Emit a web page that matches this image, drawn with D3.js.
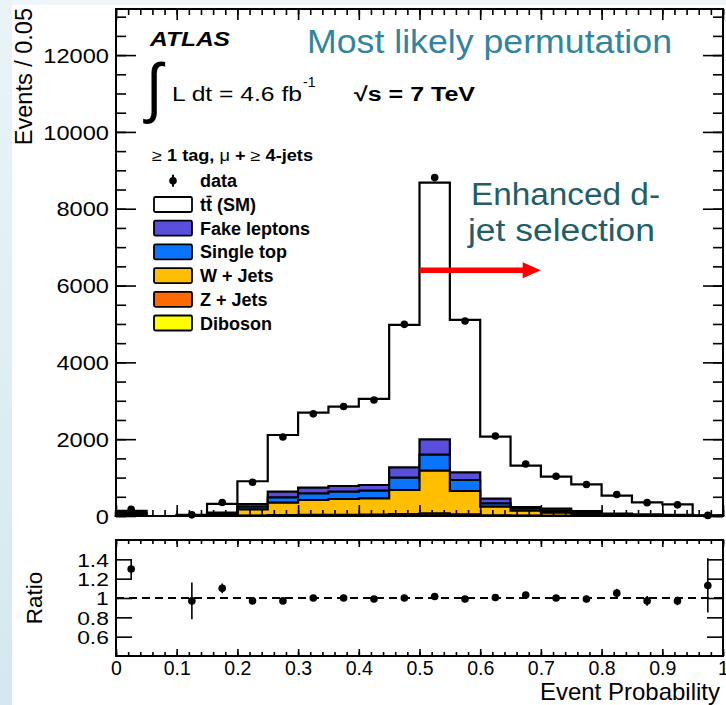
<!DOCTYPE html>
<html>
<head>
<meta charset="utf-8">
<script src="https://cdn.jsdelivr.net/npm/d3@7/dist/d3.min.js"></script>
<style>
  html, body { margin: 0; padding: 0; background: #eef5f8; }
  svg { display: block; }
  text { font-family: "Liberation Sans", Arial, Helvetica, sans-serif; }
</style>
</head>
<body>
<svg id="chart" width="726" height="705"></svg>
<script>
// ---- Histogram binning: event probability, 0.05 per bin ----
const binLow = [0.00, 0.05, 0.10, 0.15, 0.20, 0.25, 0.30, 0.35, 0.40, 0.45,
                0.50, 0.55, 0.60, 0.65, 0.70, 0.75, 0.80, 0.85, 0.90, 0.95];
const binWidth = 0.05;

// ---- Background and signal expectations (events per bin) ----
const diboson   = [1, 0, 0, 1, 3, 5, 6, 6, 7, 10, 15, 8, 4, 2, 1, 1, 0, 0, 0, 0];
const zJets     = [3, 0, 0, 3, 10, 20, 25, 26, 28, 40, 55, 35, 15, 8, 5, 3, 2, 1, 1, 0];
const wJets     = [46, 0, 6, 36, 161, 321, 386, 411, 425, 627, 1110, 608, 224, 128, 80, 36, 18, 11, 7, 2];
const singleTop = [30, 0, 2, 15, 69, 141, 174, 190, 200, 321, 417, 286, 87, 60, 50, 45, 20, 14, 10, 2];
const fakeLep   = [45, 0, 3, 35, 69, 146, 146, 148, 147, 269, 400, 200, 120, 36, 54, 45, 20, 14, 12, 1];
const ttbar     = [10, 0, 20, 228, 593, 1476, 1953, 2066, 2240, 3707, 6683, 3967, 1616, 1076, 834, 695, 471, 316, 274, 9];

// ---- Observed data (events per bin) ----
const dataCounts = [175, 0, 30, 350, 880, 2057, 2660, 2850, 3020, 4990, 8810, 5078, 2083, 1354, 1033, 822, 560, 348, 290, 16];

// ---- Data / expectation ratio and its uncertainty ----
const ratioVal = [1.30, null, 0.97, 1.10, 0.97, 0.97, 1.00, 1.00, 0.99, 1.00,
                  1.015, 0.99, 1.005, 1.03, 1.00, 0.99, 1.05, 0.97, 0.97, 1.13];
const ratioErr = [0.10, null, 0.19, 0.05, 0.03, 0.02, 0.02, 0.02, 0.02, 0.015,
                  0.01, 0.015, 0.02, 0.03, 0.03, 0.035, 0.045, 0.05, 0.045, 0.28];

// ---- Axis ticks ----
const yMajorTicks = [0, 2000, 4000, 6000, 8000, 10000, 12000];
const ratioTicks  = [0.6, 0.8, 1.0, 1.2, 1.4];
const xMajorTicks = [0, 0.1, 0.2, 0.3, 0.4, 0.5, 0.6, 0.7, 0.8, 0.9, 1.0];
const xTickLabels = ["0", "0.1", "0.2", "0.3", "0.4", "0.5", "0.6", "0.7", "0.8", "0.9", "1"];

// ---- Legend entries (stack drawn bottom to top) ----
const processes = [
  { name: "Diboson",      values: diboson,   color: "#ffff00" },
  { name: "Z + Jets",     values: zJets,     color: "#ff6a00" },
  { name: "W + Jets",     values: wJets,     color: "#ffbe00" },
  { name: "Single top",   values: singleTop, color: "#0a74ff" },
  { name: "Fake leptons", values: fakeLep,   color: "#5a4fdc" },
  { name: "tt (SM)",      values: ttbar,     color: "#ffffff" }
];

const svg = d3.select("#chart");
const FONT = '"Liberation Sans", Arial, Helvetica, sans-serif';
const CAL  = 'Lato, "Open Sans", sans-serif';

// page background: slide edge tint and white chart canvas
const grad = svg.append("defs").append("linearGradient")
  .attr("id", "edge").attr("x1", 0).attr("y1", 0).attr("x2", 0).attr("y2", 1);
grad.append("stop").attr("offset", "0%").attr("stop-color", "#eaf4f7");
grad.append("stop").attr("offset", "100%").attr("stop-color", "#d3e9ef");
svg.append("rect").attr("x", 0).attr("y", 0).attr("width", 726).attr("height", 705).attr("fill", "#eff6f9");
svg.append("rect").attr("x", 0).attr("y", 0).attr("width", 12).attr("height", 705).attr("fill", "url(#edge)");
svg.append("rect").attr("x", 12).attr("y", 5).attr("width", 714).attr("height", 700).attr("fill", "#ffffff");

// ---- Scales ----
const X0 = 116, X1 = 723;
const x  = d3.scaleLinear().domain([0, 1]).range([X0, X1]);
const y  = d3.scaleLinear().domain([0, 13200]).range([516, 9]);
const yr = d3.scaleLinear().domain([0.4, 1.6]).range([656, 540]);

// ---- Stacked histograms ----
const cumulative = [];
let running = binLow.map(() => 0);
processes.forEach(p => {
  running = running.map((v, i) => v + p.values[i]);
  cumulative.push({ ...p, top: running.slice() });
});

function stepPoints(top) {
  const pts = [[0, 0]];
  binLow.forEach((lo, i) => {
    pts.push([lo, top[i]]);
    pts.push([lo + binWidth, top[i]]);
  });
  pts.push([1, 0]);
  return pts;
}
const stepLine = d3.line().x(d => x(d[0])).y(d => y(d[1]));

const stackG = svg.append("g");
// draw the tallest layer first so lower components paint over it
cumulative.slice().reverse().forEach(layer => {
  stackG.append("path")
    .attr("d", stepLine(stepPoints(layer.top)) + "Z")
    .attr("fill", layer.color)
    .attr("stroke", "#000")
    .attr("stroke-width", 2.2)
    .attr("stroke-linejoin", "miter");
});

// ---- Main panel axes (inward ticks on all four sides) ----
function styleAxis(g) {
  g.select(".domain").remove();
  g.selectAll(".tick line").attr("stroke", "#000").attr("stroke-width", 1.6);
}
const yMinor = d3.range(0, 13200, 500);
const xMinor = d3.range(0, 1.0001, 0.02);

// left: labels outside, ticks inside
const leftAx = svg.append("g").attr("transform", `translate(${X0},0)`)
  .call(d3.axisRight(y).tickValues(yMajorTicks).tickSize(20).tickFormat(d3.format("d")));
styleAxis(leftAx);
leftAx.selectAll(".tick text")
  .attr("x", -6).attr("dy", "0.36em").attr("text-anchor", "end")
  .attr("font-size", 20).attr("font-family", FONT).attr("fill", "#000")
  .attr("transform", "scale(1.18,1)");
svg.append("g").attr("transform", `translate(${X0},0)`)
  .call(d3.axisRight(y).tickValues(yMinor).tickSize(10).tickFormat(""))
  .call(styleAxis);
// right
svg.append("g").attr("transform", `translate(${X1},0)`)
  .call(d3.axisLeft(y).tickValues(yMajorTicks).tickSize(20).tickFormat(""))
  .call(styleAxis);
svg.append("g").attr("transform", `translate(${X1},0)`)
  .call(d3.axisLeft(y).tickValues(yMinor).tickSize(10).tickFormat(""))
  .call(styleAxis);
// top and bottom
[[9, d3.axisBottom], [516, d3.axisTop]].forEach(([yy, ax]) => {
  svg.append("g").attr("transform", `translate(0,${yy})`)
    .call(ax(x).tickValues(xMajorTicks).tickSize(11).tickFormat(""))
    .call(styleAxis);
  svg.append("g").attr("transform", `translate(0,${yy})`)
    .call(ax(x).tickValues(xMinor).tickSize(6).tickFormat(""))
    .call(styleAxis);
});

// main frame
svg.append("rect").attr("x", X0).attr("y", 9).attr("width", X1 - X0).attr("height", 516 - 9)
  .attr("fill", "none").attr("stroke", "#000").attr("stroke-width", 2);

// ---- Data points with statistical error bars ----
const centers = binLow.map(lo => lo + binWidth / 2);
const pts = dataCounts.map((n, i) => ({ c: centers[i], n, show: ratioVal[i] !== null }))
  .filter(d => d.show);
const dataG = svg.append("g");
dataG.selectAll("line").data(pts).join("line")
  .attr("x1", d => x(d.c)).attr("x2", d => x(d.c))
  .attr("y1", d => y(d.n + Math.sqrt(d.n))).attr("y2", d => y(Math.max(0, d.n - Math.sqrt(d.n))))
  .attr("stroke", "#000").attr("stroke-width", 2);
dataG.selectAll("circle").data(pts).join("circle")
  .attr("cx", d => x(d.c)).attr("cy", d => y(d.n)).attr("r", 3.8).attr("fill", "#000");

// ---- Ratio panel ----
const RT = 540, RB = 656;
svg.append("g").attr("transform", `translate(${X0},0)`)
  .call(d3.axisRight(yr).tickValues(ratioTicks).tickSize(16).tickFormat(d => d === 1 ? "1" : d3.format(".1f")(d)))
  .call(styleAxis)
  .selectAll(".tick text")
  .attr("x", -6).attr("dy", "0.36em").attr("text-anchor", "end")
  .attr("font-size", 19).attr("font-family", FONT).attr("fill", "#000")
  .attr("transform", "scale(1.2,1)");
svg.append("g").attr("transform", `translate(${X1},0)`)
  .call(d3.axisLeft(yr).tickValues(ratioTicks).tickSize(16).tickFormat(""))
  .call(styleAxis);
svg.append("g").attr("transform", `translate(0,${RT})`)
  .call(d3.axisBottom(x).tickValues(xMajorTicks).tickSize(7).tickFormat(""))
  .call(styleAxis);
svg.append("g").attr("transform", `translate(0,${RT})`)
  .call(d3.axisBottom(x).tickValues(xMinor).tickSize(4).tickFormat(""))
  .call(styleAxis);
const botAx = svg.append("g").attr("transform", `translate(0,${RB})`)
  .call(d3.axisTop(x).tickValues(xMajorTicks).tickSize(7).tickFormat((d, i) => xTickLabels[i]));
styleAxis(botAx);
botAx.selectAll(".tick text")
  .attr("y", 19).attr("dy", 0).attr("text-anchor", "middle")
  .attr("font-size", 19.5).attr("font-family", FONT).attr("fill", "#000");
svg.append("g").attr("transform", `translate(0,${RB})`)
  .call(d3.axisTop(x).tickValues(xMinor).tickSize(4).tickFormat(""))
  .call(styleAxis);

svg.append("line").attr("x1", X0).attr("x2", X1).attr("y1", yr(1)).attr("y2", yr(1))
  .attr("stroke", "#000").attr("stroke-width", 2).attr("stroke-dasharray", "8,5");

svg.append("rect").attr("x", X0).attr("y", RT).attr("width", X1 - X0).attr("height", RB - RT)
  .attr("fill", "none").attr("stroke", "#000").attr("stroke-width", 2);

const rpts = ratioVal.map((r, i) => ({ c: centers[i], r, e: ratioErr[i] })).filter(d => d.r !== null);
const ratioG = svg.append("g");
ratioG.selectAll("line").data(rpts).join("line")
  .attr("x1", d => x(d.c)).attr("x2", d => x(d.c))
  .attr("y1", d => yr(d.r + d.e)).attr("y2", d => yr(d.r - d.e))
  .attr("stroke", "#000").attr("stroke-width", 1.6);
ratioG.selectAll("circle").data(rpts).join("circle")
  .attr("cx", d => x(d.c)).attr("cy", d => yr(d.r)).attr("r", 3.8).attr("fill", "#000");

// ---- Axis titles ----
svg.append("text").attr("transform", "translate(32,8) rotate(-90)")
  .attr("text-anchor", "end").attr("font-size", 23.5).attr("font-family", FONT).attr("fill", "#000")
  .text("Events / 0.05");
svg.append("text").attr("transform", `translate(42,${yr(1)}) rotate(-90)`)
  .attr("text-anchor", "middle").attr("font-size", 22.5).attr("font-family", FONT).attr("fill", "#000")
  .text("Ratio");
svg.append("text").attr("x", 720).attr("y", 700)
  .attr("text-anchor", "end").attr("font-size", 24).attr("font-family", FONT).attr("fill", "#000")
  .text("Event Probability");

// ---- ATLAS labels ----
svg.append("text").attr("x", 150).attr("y", 46)
  .attr("font-size", 20).attr("font-weight", "bold").attr("font-style", "italic")
  .attr("font-family", FONT).attr("textLength", 80).attr("lengthAdjust", "spacingAndGlyphs")
  .text("ATLAS");
svg.append("text")
  .attr("font-size", 66).attr("font-family", FONT)
  .attr("transform", "translate(146,110) scale(0.9,1)")
  .text("\u222B");
svg.append("text").attr("x", 172).attr("y", 101)
  .attr("font-size", 20).attr("font-family", FONT).attr("textLength", 130).attr("lengthAdjust", "spacingAndGlyphs")
  .text("L dt = 4.6 fb");
svg.append("text").attr("x", 303).attr("y", 87)
  .attr("font-size", 14).attr("font-family", FONT).text("-1");
svg.append("text").attr("x", 354).attr("y", 101)
  .attr("font-size", 20).attr("font-weight", "bold").attr("font-family", FONT)
  .attr("textLength", 121).attr("lengthAdjust", "spacingAndGlyphs")
  .text("\u221As = 7 TeV");

// ---- Legend ----
const lg = svg.append("g");
const cut = lg.append("text").attr("x", 152).attr("y", 161)
  .attr("font-size", 16).attr("font-family", FONT).attr("textLength", 161).attr("lengthAdjust", "spacingAndGlyphs");
cut.append("tspan").text("\u2265 ");
cut.append("tspan").attr("font-weight", "bold").text("1 tag, ");
cut.append("tspan").text("\u03BC ");
cut.append("tspan").attr("font-weight", "bold").text("+ ");
cut.append("tspan").text("\u2265 ");
cut.append("tspan").attr("font-weight", "bold").text("4-jets");

const rowY = [180.7, 204.5, 228.2, 251.9, 275.6, 299.3, 323];
lg.append("line").attr("x1", 173).attr("x2", 173).attr("y1", rowY[0] - 6).attr("y2", rowY[0] + 6)
  .attr("stroke", "#000").attr("stroke-width", 2);
lg.append("circle").attr("cx", 173).attr("cy", rowY[0]).attr("r", 3.8).attr("fill", "#000");
lg.append("text").attr("x", 200).attr("y", rowY[0] + 6.5)
  .attr("font-size", 18).attr("font-weight", "bold").attr("font-family", FONT).text("data");

const legendOrder = processes.slice().reverse();
legendOrder.forEach((p, i) => {
  const cy = rowY[i + 1];
  lg.append("rect").attr("x", 154).attr("y", cy - 7.5).attr("width", 38).attr("height", 15)
    .attr("rx", 1.5).attr("fill", p.color).attr("stroke", "#000").attr("stroke-width", 1.8);
  const t = lg.append("text").attr("x", 200).attr("y", cy + 6.5)
    .attr("font-size", 18).attr("font-weight", "bold").attr("font-family", FONT).text(p.name);
  if (p.name === "tt (SM)") {
    // anti-top bar over the second t
    const node = t.node();
    const x0 = 200 + node.getSubStringLength(0, 1);
    const w = node.getSubStringLength(1, 1);
    lg.append("line").attr("x1", x0 + 0.5).attr("x2", x0 + w - 0.5)
      .attr("y1", cy - 8).attr("y2", cy - 8).attr("stroke", "#000").attr("stroke-width", 1.6);
  }
});

// ---- Slide annotations ----
svg.append("text").attr("x", 307).attr("y", 53)
  .attr("font-size", 34).attr("font-family", CAL).attr("fill", "#31859c")
  .attr("textLength", 365).attr("lengthAdjust", "spacingAndGlyphs")
  .text("Most likely permutation");
svg.append("text").attr("x", 471).attr("y", 205)
  .attr("font-size", 31).attr("font-family", CAL).attr("fill", "#215e66")
  .attr("textLength", 189).attr("lengthAdjust", "spacingAndGlyphs")
  .text("Enhanced d-");
svg.append("text").attr("x", 468).attr("y", 241)
  .attr("font-size", 31).attr("font-family", CAL).attr("fill", "#215e66")
  .attr("textLength", 187).attr("lengthAdjust", "spacingAndGlyphs")
  .text("jet selection");

// selection arrow from P = 0.5 upward in probability
const arrowY = y(6400);
svg.append("line").attr("x1", x(0.5)).attr("x2", x(0.675)).attr("y1", arrowY).attr("y2", arrowY)
  .attr("stroke", "#ff0000").attr("stroke-width", 5.5);
svg.append("path")
  .attr("d", `M${x(0.7)},${arrowY} L${x(0.67)},${arrowY - 8} L${x(0.67)},${arrowY + 8} Z`)
  .attr("fill", "#ff0000");
</script>
</body>
</html>
